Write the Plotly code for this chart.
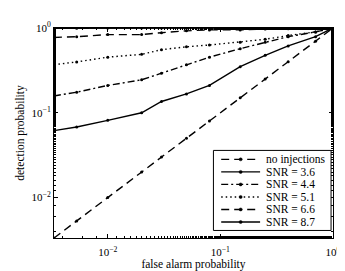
import plotly.graph_objects as go

far = [0.00333, 0.0053, 0.01, 0.02, 0.03, 0.05, 0.08, 0.15, 0.25, 0.4, 0.7, 1.0]
no_inj = [0.00333, 0.0053, 0.01, 0.02, 0.03, 0.05, 0.08, 0.15, 0.25, 0.4, 0.7, 1.0]
snr36 = [0.0615, 0.068, 0.0815, 0.1, 0.136, 0.167, 0.21, 0.35, 0.476, 0.615, 0.79, 1.0]
snr44 = [0.158, 0.175, 0.21, 0.245, 0.293, 0.369, 0.453, 0.57, 0.68, 0.79, 0.9, 1.0]
snr51 = [0.369, 0.398, 0.453, 0.489, 0.555, 0.6, 0.63, 0.68, 0.736, 0.815, 0.9, 1.0]
snr66 = [0.774, 0.79, 0.836, 0.836, 0.88, 0.926, 0.95, 0.95, 0.97, 0.98, 0.99, 1.0]
snr87 = [0.995, 0.996, 0.997, 0.998, 0.998, 0.999, 0.999, 1.0, 1.0, 1.0, 1.0, 1.0]

names = ["no injections", "SNR = 3.6", "SNR = 4.4", "SNR = 5.1", "SNR = 6.6", "SNR = 8.7"]
values = [no_inj, snr36, snr44, snr51, snr66, snr87]
dashes = ["8px,5px", "solid", "7px,3px,2px,3px", "1.5px,3px", "8px,5px", "solid"]

tickvals = [0.01, 0.1, 1]
ticktext = ["10<sup>\u22122</sup>", "10<sup>\u22121</sup>", "10<sup>0</sup>"]

FAM = "Liberation Serif, Times New Roman, serif"
W, H = 345, 271
L, R, T, B = 45, 13, 14, 34
PW, PH = W - L - R, H - T - B


def px2paper(x, y):
    return (x - L) / PW, (H - B - y) / PH


fig = go.Figure()
for name, y, dash in zip(names, values, dashes):
    fig.add_trace(go.Scatter(
        x=far, y=y, name=name, mode="lines+markers",
        line=dict(color="black", width=1.4, dash=dash),
        marker=dict(color="black", size=3, symbol="circle"),
        showlegend=False,
    ))

font = dict(family=FAM, size=11.5, color="black")
axis_common = dict(
    type="log", range=[-2.477, 0], showgrid=False, zeroline=False,
    showline=True, linecolor="black", linewidth=1, mirror="ticks",
    ticks="inside", ticklen=4, tickcolor="black",
    tickvals=tickvals, ticktext=ticktext, tickfont=dict(family=FAM, size=11, color="black"),
    minor=dict(ticks="inside", ticklen=2, tickcolor="black", showgrid=False),
)
fig.update_xaxes(**axis_common, ticklabelstandoff=4,
                 title=dict(text="false alarm probability", font=font, standoff=1))
fig.update_yaxes(**axis_common, title=dict(text="detection probability", font=font, standoff=4))

# hand-drawn legend box (MATLAB style, compact rows)
shapes = []
annotations = []
x0, y0 = px2paper(209, 229)
x1, y1 = px2paper(330, 144)
shapes.append(dict(type="rect", xref="paper", yref="paper", x0=x0, y0=y0, x1=x1, y1=y1,
                   line=dict(color="black", width=1), fillcolor="white", layer="above"))
for i, (name, dash) in enumerate(zip(names, dashes)):
    ry = 153.5 + i * 13.3
    lx0, ly = px2paper(217, ry)
    lx1, _ = px2paper(257, ry)
    mx, _ = px2paper(237, ry)
    tx, _ = px2paper(261, ry)
    shapes.append(dict(type="line", xref="paper", yref="paper", x0=lx0, y0=ly, x1=lx1, y1=ly,
                       line=dict(color="black", width=1.4, dash=dash), layer="above"))
    shapes.append(dict(type="circle", xref="paper", yref="paper",
                       x0=mx - 1.6 / PW, x1=mx + 1.6 / PW, y0=ly - 1.6 / PH, y1=ly + 1.6 / PH,
                       fillcolor="black", line=dict(color="black", width=0.5), layer="above"))
    annotations.append(dict(text=name, xref="paper", yref="paper", x=tx, y=ly,
                            xanchor="left", yanchor="middle", showarrow=False,
                            font=dict(family=FAM, size=11.5, color="black")))

fig.update_layout(
    width=W, height=H,
    margin=dict(l=L, r=R, t=T, b=B),
    paper_bgcolor="white", plot_bgcolor="white",
    font=font,
    showlegend=False,
    shapes=shapes,
    annotations=annotations,
)

fig.write_html("out.html")
